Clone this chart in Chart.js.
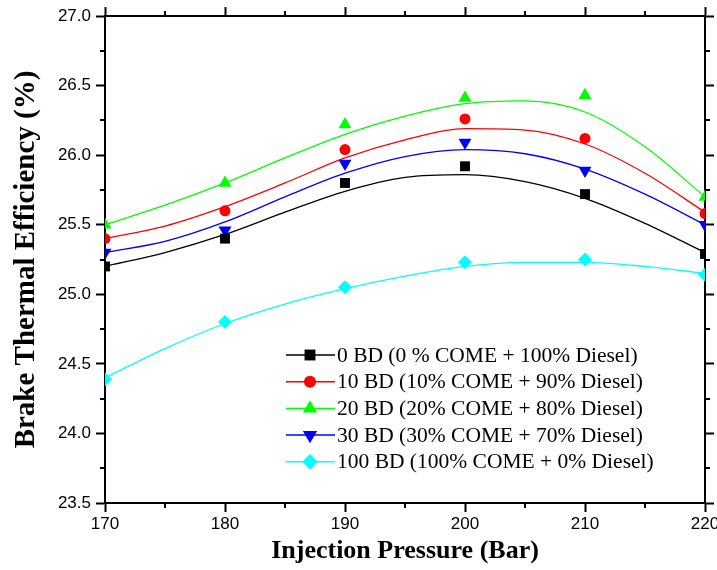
<!DOCTYPE html>
<html><head><meta charset="utf-8">
<script src="https://cdn.jsdelivr.net/npm/chart.js@4/dist/chart.umd.min.js"></script>
<style>html,body{margin:0;padding:0;background:#fff;} canvas{display:block;}</style>
</head><body>
<canvas id="c" width="717" height="570"></canvas>
<script>
// Measured data points
const pressures = [170, 180, 190, 200, 210, 220];
const bd0   = [25.20, 25.40, 25.80, 25.92, 25.72, 25.29];
const bd10  = [25.40, 25.60, 26.04, 26.26, 26.12, 25.58];
const bd20  = [25.50, 25.80, 26.22, 26.41, 26.43, 25.70];
const bd30  = [25.30, 25.46, 25.94, 26.09, 25.89, 25.50];
const bd100 = [24.39, 24.80, 25.05, 25.23, 25.25, 25.14];

// Fitted curves
const fitPressures = [170, 175, 180, 185, 190, 195, 200, 205, 210, 215, 220];
const fit0   = [25.20, 25.30, 25.43, 25.59, 25.74, 25.84, 25.86, 25.81, 25.69, 25.51, 25.30];
const fit10  = [25.40, 25.49, 25.63, 25.80, 25.98, 26.11, 26.19, 26.18, 26.08, 25.87, 25.59];
const fit20  = [25.50, 25.64, 25.80, 25.98, 26.15, 26.28, 26.37, 26.39, 26.31, 26.06, 25.70];
const fit30  = [25.30, 25.38, 25.52, 25.70, 25.87, 25.99, 26.04, 26.01, 25.90, 25.72, 25.50];
const fit100 = [24.40, 24.61, 24.79, 24.93, 25.04, 25.13, 25.20, 25.23, 25.23, 25.20, 25.15];

const seriesLabels = [
  "0 BD (0 % COME + 100% Diesel)",
  "10 BD (10% COME + 90% Diesel)",
  "20 BD (20% COME + 80% Diesel)",
  "30 BD (30% COME + 70% Diesel)",
  "100 BD (100% COME + 0% Diesel)"
];
const xTitle = "Injection Pressure (Bar)";
const yTitle = "Brake Thermal Efficiency (%)";

const colors = ["#000000", "#ff0000", "#00ff00", "#0000ff", "#00ffff"];
const markers = [
  {style: "rect", radius: 7, rotation: 0},
  {style: "circle", radius: 5.5, rotation: 0},
  {style: "triangle", radius: 7.5, rotation: 0},
  {style: "triangle", radius: 7.5, rotation: 180},
  {style: "rectRot", radius: 7, rotation: 0}
];
const pointSeries = [bd0, bd10, bd20, bd30, bd100];
const fitSeries = [fit0, fit10, fit20, fit30, fit100];

const toXY = (xs, ys) => xs.map((x, i) => ({x: x, y: ys[i]}));

const datasets = [];
fitSeries.forEach((s, i) => {
  datasets.push({
    label: "", data: toXY(fitPressures, s), showLine: true, cubicInterpolationMode: "monotone",
    borderColor: colors[i], borderWidth: 1.3, pointRadius: 0, pointHoverRadius: 0,
    fill: false, clip: 0, order: 2, isFit: true
  });
});
pointSeries.forEach((s, i) => {
  datasets.push({
    label: seriesLabels[i], data: toXY(pressures, s), showLine: false,
    backgroundColor: colors[i], borderColor: colors[i], borderWidth: 0,
    pointStyle: markers[i].style, pointRadius: markers[i].radius,
    pointRotation: markers[i].rotation, clip: 0, order: 1
  });
});

function drawMarker(ctx, style, x, y, r, rot, color) {
  ctx.save();
  ctx.fillStyle = color;
  ctx.beginPath();
  if (style === "rect") {
    const h = r * Math.SQRT1_2;
    ctx.rect(x - h, y - h, 2 * h, 2 * h);
  } else if (style === "circle") {
    ctx.arc(x, y, r, 0, Math.PI * 2);
  } else if (style === "triangle") {
    const a = rot * Math.PI / 180;
    for (let k = 0; k < 3; k++) {
      const ang = a + k * 2 * Math.PI / 3;
      const px = x + Math.sin(ang) * r, py = y - Math.cos(ang) * r;
      if (k === 0) ctx.moveTo(px, py); else ctx.lineTo(px, py);
    }
    ctx.closePath();
  } else if (style === "rectRot") {
    ctx.moveTo(x, y - r); ctx.lineTo(x + r, y); ctx.lineTo(x, y + r); ctx.lineTo(x - r, y); ctx.closePath();
  }
  ctx.fill();
  ctx.restore();
}

const minorTicks = {
  id: "minorTicks",
  afterDraw(chart) {
    const ctx = chart.ctx, a = chart.chartArea;
    const xs = chart.scales.x, ys = chart.scales.y;
    ctx.save();
    ctx.strokeStyle = "#000"; ctx.lineWidth = 2;
    const xv = xs.ticks.map(t => t.value);
    for (let i = 0; i < xv.length - 1; i++) {
      const p = Math.round(xs.getPixelForValue((xv[i] + xv[i + 1]) / 2));
      ctx.beginPath(); ctx.moveTo(p, a.bottom); ctx.lineTo(p, a.bottom + 5); ctx.stroke();
      ctx.beginPath(); ctx.moveTo(p, a.top); ctx.lineTo(p, a.top - 5); ctx.stroke();
    }
    const yv = ys.ticks.map(t => t.value);
    for (let i = 0; i < yv.length - 1; i++) {
      const p = Math.round(ys.getPixelForValue((yv[i] + yv[i + 1]) / 2));
      ctx.beginPath(); ctx.moveTo(a.left, p); ctx.lineTo(a.left - 5, p); ctx.stroke();
      ctx.beginPath(); ctx.moveTo(a.right, p); ctx.lineTo(a.right + 5, p); ctx.stroke();
    }
    ctx.restore();
  }
};

const lineLegend = {
  id: "lineLegend",
  afterDraw(chart) {
    const ctx = chart.ctx;
    const x0 = 286, x1 = 335, xm = 310, xt = 337, y0 = 355, dy = 26.7;
    ctx.save();
    ctx.font = "21.5px 'Liberation Serif', 'Times New Roman', serif";
    ctx.textBaseline = "middle";
    let row = 0;
    chart.data.datasets.forEach((ds) => {
      if (ds.isFit) return;
      const y = y0 + row * dy;
      ctx.strokeStyle = ds.borderColor; ctx.lineWidth = 1.5;
      ctx.beginPath(); ctx.moveTo(x0, y); ctx.lineTo(x1, y); ctx.stroke();
      drawMarker(ctx, ds.pointStyle, xm, y, ds.pointRadius * 1.1, ds.pointRotation, ds.backgroundColor);
      ctx.fillStyle = "#000";
      ctx.fillText(ds.label, xt, y + 1);
      row++;
    });
    ctx.restore();
  }
};

const tickFont = {family: "'Liberation Sans', Arial, sans-serif", size: 17};
const xTitleFont = {family: "'Liberation Serif', 'Times New Roman', serif", size: 26, weight: "bold"};
const yTitleFont = {family: "'Liberation Serif', 'Times New Roman', serif", size: 29, weight: "bold"};
const gridOpts = {display: true, drawOnChartArea: false, drawTicks: true, tickLength: 9, tickWidth: 2, tickColor: "#000", color: "#000"};
const borderOpts = {display: true, color: "#000", width: 2};

new Chart(document.getElementById("c"), {
  type: "scatter",
  data: {datasets: datasets},
  options: {
    responsive: false, animation: false, devicePixelRatio: 1,
    layout: {padding: 0, autoPadding: false},
    plugins: {legend: {display: false}, tooltip: {enabled: false}},
    scales: {
      x: {
        type: "linear", position: "bottom", min: 170, max: 220,
        ticks: {stepSize: 10, color: "#000", font: tickFont, padding: 2, maxRotation: 0},
        grid: gridOpts, border: borderOpts,
        title: {display: true, text: xTitle, color: "#000", font: xTitleFont, padding: {top: 0, bottom: 3}},
        afterFit(s) { s.height = 67; s.paddingLeft = 0; s.paddingRight = 0; }
      },
      x2: {
        type: "linear", position: "top", min: 170, max: 220,
        ticks: {stepSize: 10, display: false},
        grid: gridOpts, border: borderOpts,
        afterFit(s) { s.height = 16; s.paddingLeft = 0; s.paddingRight = 0; }
      },
      y: {
        type: "linear", position: "left", min: 23.5, max: 27.0,
        ticks: {stepSize: 0.5, color: "#000", font: tickFont, padding: 5, callback: v => Number(v).toFixed(1)},
        grid: gridOpts, border: borderOpts,
        title: {display: true, text: yTitle, color: "#000", font: yTitleFont, padding: {top: 9, bottom: 0}},
        afterFit(s) { s.width = 105; s.paddingTop = 0; s.paddingBottom = 0; }
      },
      y2: {
        type: "linear", position: "right", min: 23.5, max: 27.0,
        ticks: {stepSize: 0.5, display: false},
        grid: gridOpts, border: borderOpts,
        afterFit(s) { s.width = 12; s.paddingTop = 0; s.paddingBottom = 0; }
      }
    }
  },
  plugins: [minorTicks, lineLegend]
});
</script>
</body></html>
